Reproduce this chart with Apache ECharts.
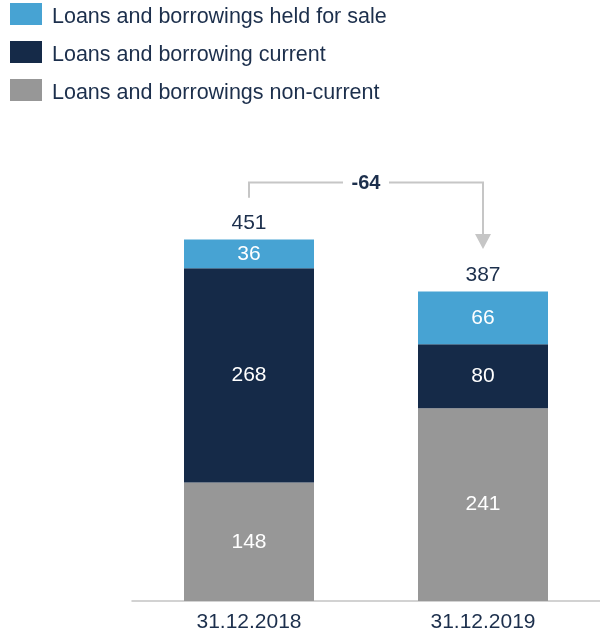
<!DOCTYPE html>
<html>
<head>
<meta charset="utf-8">
<script src="https://cdn.jsdelivr.net/npm/echarts@6/dist/echarts.min.js"></script>
<style>
  html, body { margin: 0; padding: 0; background: #fff; }
  #chart { width: 600px; height: 634px; }
</style>
</head>
<body>
<div id="chart"></div>
<script>
// Loans and borrowings, by balance-sheet date
const categories = ['31.12.2018', '31.12.2019'];
const nonCurrent = [148, 241];
const current = [268, 80];
const heldForSale = [36, 66];
const totals = [451, 387];
const changeLabel = '-64';

const seriesNames = [
  'Loans and borrowings held for sale',
  'Loans and borrowing current',
  'Loans and borrowings non-current'
];

const FONT = '"Liberation Sans", Arial, sans-serif';
const TEXT = '#1c2f4c';
const C_LIGHT = '#47a3d3';
const C_DARK = '#152a48';
const C_GREY = '#979797';

const chart = echarts.init(document.getElementById('chart'));

const segLabel = {
  show: true,
  position: 'inside',
  color: '#fff',
  fontSize: 21,
  fontFamily: FONT
};

chart.setOption({
  animation: false,
  textStyle: { fontFamily: FONT },
  legend: {
    orient: 'vertical',
    left: 10,
    top: 3,
    padding: 0,
    itemWidth: 32,
    itemHeight: 22,
    itemGap: 13,
    icon: 'rect',
    data: seriesNames,
    formatter: '{t|{name}}',
    textStyle: {
      color: TEXT,
      fontSize: 21.5,
      fontFamily: FONT,
      rich: {
        t: { color: TEXT, fontSize: 21.5, fontFamily: FONT, padding: [6, 0, 0, 5] }
      }
    },
    selectedMode: false
  },
  grid: { left: 132, right: 0, top: 201, bottom: 33, containLabel: false },
  xAxis: {
    type: 'category',
    data: categories,
    axisLine: { lineStyle: { color: '#c4c4c4', width: 1.5 } },
    axisTick: { show: false },
    axisLabel: { color: TEXT, fontSize: 21, fontFamily: FONT, margin: 11 }
  },
  yAxis: {
    type: 'value',
    min: 0,
    max: 500,
    show: false,
    splitLine: { show: false }
  },
  series: [
    {
      name: seriesNames[2],
      type: 'bar',
      stack: 'loans',
      barWidth: 130,
      data: nonCurrent,
      itemStyle: { color: C_GREY },
      label: segLabel
    },
    {
      name: seriesNames[1],
      type: 'bar',
      stack: 'loans',
      data: current,
      itemStyle: { color: C_DARK },
      label: segLabel
    },
    {
      name: seriesNames[0],
      type: 'bar',
      stack: 'loans',
      data: heldForSale,
      itemStyle: { color: C_LIGHT },
      label: segLabel
    },
    {
      // zero-height cap carrying the total label above each stack
      name: 'total',
      type: 'bar',
      stack: 'loans',
      data: [0, 0],
      silent: true,
      itemStyle: { color: 'transparent' },
      label: {
        show: true,
        position: 'top',
        distance: 6,
        formatter: (p) => String(totals[p.dataIndex]),
        color: TEXT,
        fontSize: 21,
        fontFamily: FONT
      }
    }
  ]
});

// Change bracket from the first total to the second, drawn in data units
const arrowStartVal = totals[0] + 53;   // just above the first total label
const arrowTopVal = totals[0] + 72;     // horizontal run
const arrowTipVal = totals[1] + 53;     // tip above the second total label

function px(cat, val) {
  return chart.convertToPixel({ xAxisIndex: 0, yAxisIndex: 0 }, [cat, val]);
}

const pStart = px(0, arrowStartVal);
const pTopL = px(0, arrowTopVal);
const pTopR = px(1, arrowTopVal);
const pTip = px(1, arrowTipVal);
const midX = (pTopL[0] + pTopR[0]) / 2;
const lineColor = '#c6c6c6';
const gapHalf = 23;
const headH = 15;
const headW = 8;

chart.setOption({
  graphic: [
    {
      type: 'polyline',
      shape: { points: [pStart, pTopL, [midX - gapHalf, pTopL[1]]] },
      style: { stroke: lineColor, lineWidth: 2, fill: null }
    },
    {
      type: 'polyline',
      shape: { points: [[midX + gapHalf, pTopR[1]], pTopR, [pTip[0], pTip[1] - headH + 1]] },
      style: { stroke: lineColor, lineWidth: 2, fill: null }
    },
    {
      type: 'polygon',
      shape: { points: [[pTip[0] - headW, pTip[1] - headH], [pTip[0] + headW, pTip[1] - headH], [pTip[0], pTip[1]]] },
      style: { fill: lineColor }
    },
    {
      type: 'text',
      x: midX,
      y: pTopL[1] + 1,
      style: {
        text: changeLabel,
        fill: TEXT,
        font: 'bold 20px ' + FONT,
        align: 'center',
        verticalAlign: 'middle'
      }
    }
  ]
});
</script>
</body>
</html>
